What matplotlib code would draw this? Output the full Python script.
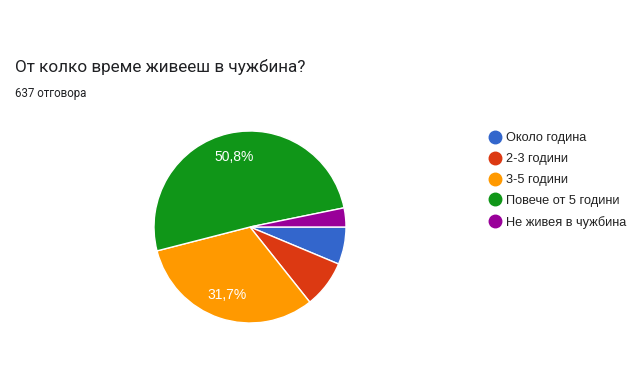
import matplotlib.pyplot as plt
from matplotlib.lines import Line2D

plt.rcParams['font.family'] = ['Roboto', 'DejaVu Sans']

title = 'От колко време живееш в чужбина?'
subtitle = '637 отговора'
labels = ['Около година', '2-3 години', '3-5 години', 'Повече от 5 години', 'Не живея в чужбина']
shares = [6.3, 8.0, 31.7, 50.8, 3.2]
colors = ['#3366cc', '#dc3912', '#ff9900', '#109618', '#990099']

W, H = 640, 365
fig = plt.figure(figsize=(W / 100, H / 100), dpi=100)

fig.text(15 / W, 1 - 67 / H, title, fontsize=12.3, color='#202124', va='center')
fig.text(15 / W, 1 - 93 / H, subtitle, fontsize=8.3, color='#202124', va='center')

# pie: center (250, 227), radius 96 px
cx, cy, r = 250, 227, 96
ax = fig.add_axes([(cx - r) / W, 1 - (cy + r) / H, 2 * r / W, 2 * r / H])


def pct(p):
    if p < 10:
        return ''
    return ('%.1f%%' % p).replace('.', ',')


wedges, texts, autotexts = ax.pie(
    shares, colors=colors, startangle=0, counterclock=False,
    autopct=pct, pctdistance=0.75, radius=1,
    wedgeprops=dict(edgecolor='white', linewidth=1),
    textprops=dict(color='white', fontsize=10, family=['Liberation Sans', 'DejaVu Sans']))
ax.set_xlim(-1, 1)
ax.set_ylim(-1, 1)
ax.set_aspect('equal')
ax.axis('off')

handles = [Line2D([0], [0], marker='o', linestyle='', markersize=9,
                  markerfacecolor=c, markeredgecolor=c) for c in colors]
fig.legend(handles, labels, loc='upper left',
           bbox_to_anchor=(484 / W, 1 - 127 / H), frameon=False,
           prop=dict(family=['Liberation Sans', 'DejaVu Sans'], size=9.2),
           labelcolor='#222222', handlelength=0.9,
           handletextpad=0.45, labelspacing=0.7, borderaxespad=0)

fig.savefig('out.png', dpi=100, facecolor='white')
